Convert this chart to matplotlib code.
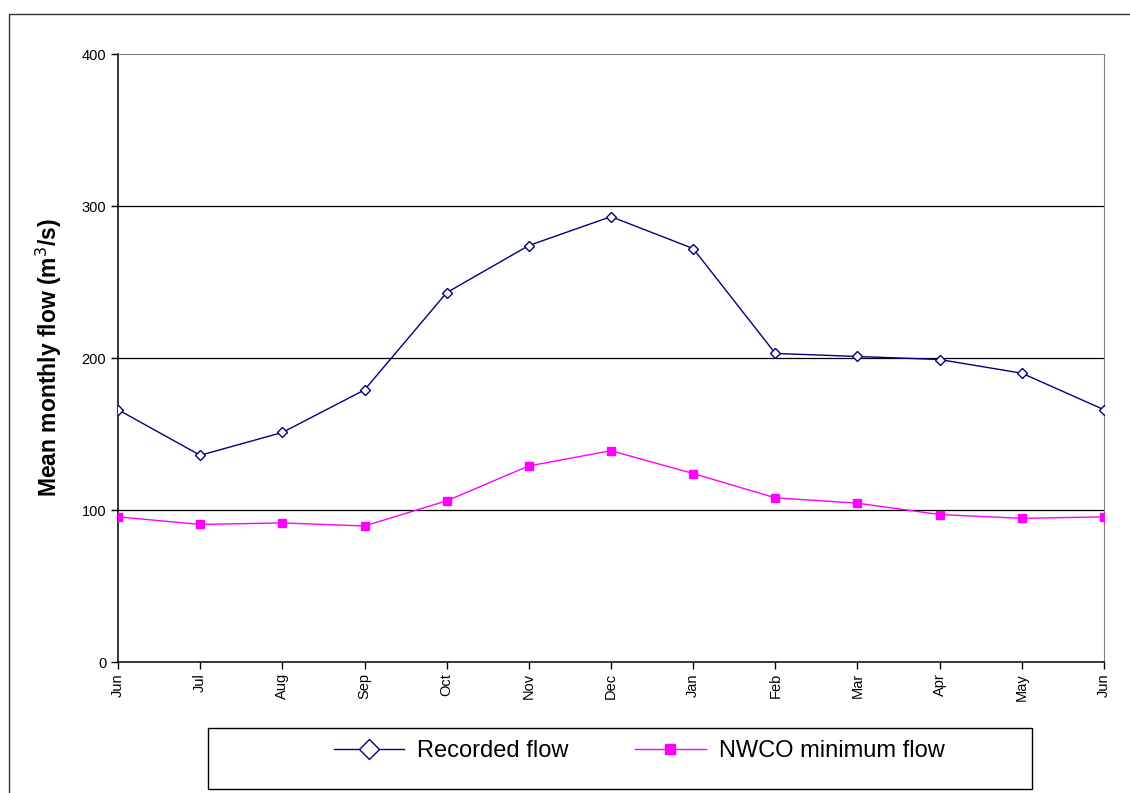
import matplotlib.pyplot as plt
from matplotlib.patches import Rectangle
from matplotlib.lines import Line2D

plt.rcParams['font.family'] = ['Liberation Sans', 'DejaVu Sans']

# Months (June to June)
months = ["Jun", "Jul", "Aug", "Sep", "Oct", "Nov", "Dec",
          "Jan", "Feb", "Mar", "Apr", "May", "Jun"]

# Mean monthly flow, m3/s
recorded_flow = [166, 136, 151, 179, 243, 274, 293, 272, 203, 201, 199, 190, 166]
nwco_min_flow = [95.5, 90.5, 91.5, 89.5, 106, 129, 139, 124, 108, 104.5, 97, 94.5, 95.5]

fig = plt.figure(figsize=(11.3, 7.93), dpi=100)
ax = fig.add_axes([118 / 1130, 1 - 662 / 793, 986 / 1130, 608 / 793])

x = list(range(len(months)))
ax.plot(x, recorded_flow, color="#000080", lw=1.0, marker="D", markersize=5,
        markerfacecolor="white", markeredgecolor="#000080", markeredgewidth=1.0,
        label="Recorded flow", zorder=3)
ax.plot(x, nwco_min_flow, color="#FF00FF", lw=1.0, marker="s", markersize=5.5,
        markerfacecolor="#FF00FF", markeredgecolor="#FF00FF",
        label="NWCO minimum flow", zorder=3)

# Axes and grid
ax.set_xlim(0, len(months) - 1)
ax.set_ylim(0, 400)
ax.set_yticks([0, 100, 200, 300, 400])
ax.set_xticks(x)
ax.set_xticklabels(months, rotation=90, fontsize=10.5)
ax.tick_params(axis="y", labelsize=10.5, direction="out", length=5, width=1)
ax.tick_params(axis="x", direction="out", length=5, width=1, pad=3)
for yv in [100, 200, 300]:
    ax.axhline(yv, color="black", lw=0.9, zorder=1)
ax.spines["top"].set_color("#808080")
ax.spines["right"].set_color("#808080")
ax.spines["left"].set_linewidth(1.1)
ax.spines["bottom"].set_linewidth(1.1)

ax.set_ylabel("Mean monthly flow (m$^3$/s)", fontsize=16.5, fontweight="bold",
              labelpad=13)

# Legend in its own box below the plot
fig.patches.append(Rectangle((208 / 1130, 4 / 793), 824 / 1130, 61 / 793,
                             transform=fig.transFigure, fill=False,
                             edgecolor="black", lw=1.0))
handles = [
    Line2D([], [], color="#000080", lw=1.0, marker="D", markersize=10,
           markerfacecolor="white", markeredgecolor="#000080"),
    Line2D([], [], color="#FF00FF", lw=1.0, marker="s", markersize=7,
           markerfacecolor="#FF00FF", markeredgecolor="#FF00FF"),
]
fig.legend(handles, ["Recorded flow", "NWCO minimum flow"], loc="center",
           bbox_to_anchor=(639 / 1130, 1 - 751 / 793), ncol=2, frameon=False,
           fontsize=17, handlelength=3.0, columnspacing=2.8, handletextpad=0.55)

# Outer chart frame (runs off the right and bottom edges)
fig.patches.append(Rectangle((9 / 1130, -0.1), 1.2, 1.1 - 14 / 793,
                             transform=fig.transFigure, fill=False,
                             edgecolor="#333333", lw=1.0))

fig.savefig("out.png", dpi=100)
